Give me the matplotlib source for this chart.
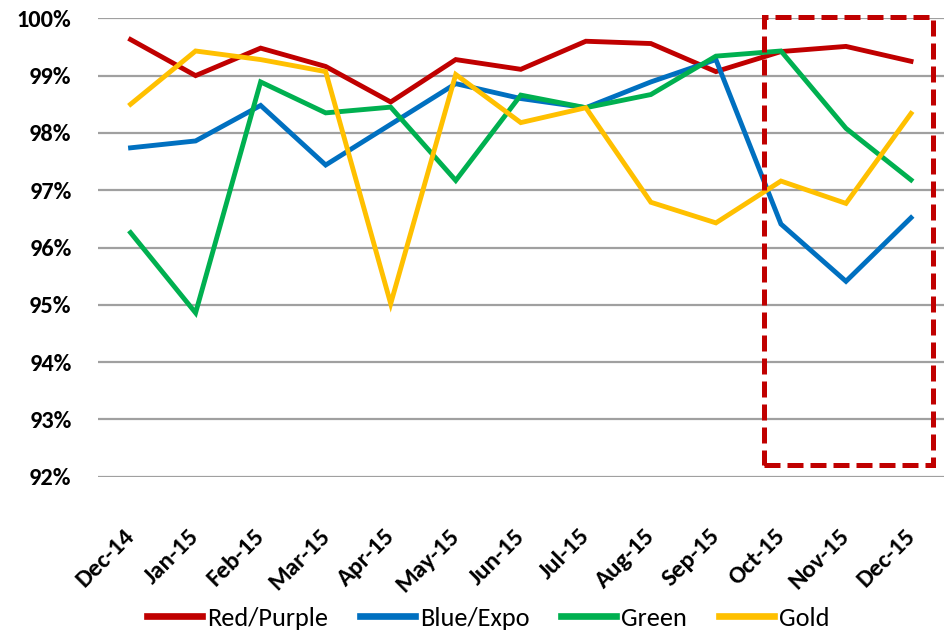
import matplotlib.pyplot as plt
from matplotlib.patches import Rectangle
from matplotlib.ticker import FuncFormatter
from matplotlib.transforms import ScaledTranslation

# ------------------ DATOS ------------------
meses = ["Dec-14", "Jan-15", "Feb-15", "Mar-15", "Apr-15", "May-15", "Jun-15",
         "Jul-15", "Aug-15", "Sep-15", "Oct-15", "Nov-15", "Dec-15"]

red_purple = [99.63, 99.00, 99.48, 99.16, 98.54, 99.28, 99.11, 99.60, 99.56, 99.07, 99.42, 99.51, 99.25]
blue_expo = [97.74, 97.86, 98.48, 97.44, 98.15, 98.86, 98.60, 98.44, 98.89, 99.28, 96.41, 95.41, 96.52]
green = [96.26, 94.86, 98.89, 98.35, 98.45, 97.17, 98.66, 98.44, 98.67, 99.34, 99.43, 98.08, 97.18]
gold = [98.50, 99.43, 99.28, 99.07, 95.02, 99.02, 98.18, 98.44, 96.79, 96.43, 97.16, 96.77, 98.34]

series = [
    ("Red/Purple", red_purple, "#C00000"),
    ("Blue/Expo", blue_expo, "#0070C0"),
    ("Green", green, "#00B050"),
    ("Gold", gold, "#FFC000"),
]

# zona resaltada (ultimos tres meses)
mes_ini_resaltado = "Oct-15"
mes_fin_resaltado = "Dec-15"
# -------------------------------------------

plt.rcParams["font.family"] = ["Carlito", "Liberation Sans"]

fig = plt.figure(figsize=(9.48, 6.32), dpi=100)
ax = fig.add_axes([0.1034, 0.2457, 0.8919, 0.7253])

x = list(range(len(meses)))
for nombre, valores, color in series:
    ax.plot(x, valores, color=color, lw=3.5, label=nombre, solid_joinstyle="miter")

ax.set_xlim(-0.5, len(meses) - 0.5)
ax.set_ylim(92, 100)
ax.set_yticks(range(92, 101))
ax.yaxis.set_major_formatter(FuncFormatter(lambda v, p: f"{v:.0f}%"))
ax.grid(axis="y", color="#A0A0A0", lw=1.6)
ax.set_axisbelow(True)
for s in ax.spines.values():
    s.set_visible(False)
ax.tick_params(length=0)
ax.tick_params(axis="y", labelsize=17.5, pad=19)

ax.set_xticks(x)
ax.set_xticklabels(meses, rotation=45, ha="right", rotation_mode="anchor",
                   fontsize=18, fontweight="bold")
ax.tick_params(axis="x", pad=35)
# pequeño corrimiento a la izquierda de las etiquetas giradas
desplazo = ScaledTranslation(-7 / 100, 0, fig.dpi_scale_trans)
for t in ax.get_xticklabels():
    t.set_transform(t.get_transform() + desplazo)
for t in ax.get_yticklabels():
    t.set_fontweight("bold")

# rectangulo discontinuo
i0 = meses.index(mes_ini_resaltado)
i1 = meses.index(mes_fin_resaltado)
rect = Rectangle((i0 - 0.26, 92.2), (i1 + 0.34) - (i0 - 0.26), 7.82,
                 fill=False, edgecolor="#C00000", lw=3.6,
                 linestyle=(0, (3.2, 1.4)), clip_on=False, zorder=5)
ax.add_patch(rect)

leg = fig.legend(loc="center", bbox_to_anchor=(0.515, 0.022), ncol=4, frameon=False,
                 fontsize=18.9, handlelength=2.1, columnspacing=1.2, handletextpad=0.2)
for linea in leg.get_lines():
    linea.set_linewidth(4.8)

fig.savefig("out.png", dpi=100)
